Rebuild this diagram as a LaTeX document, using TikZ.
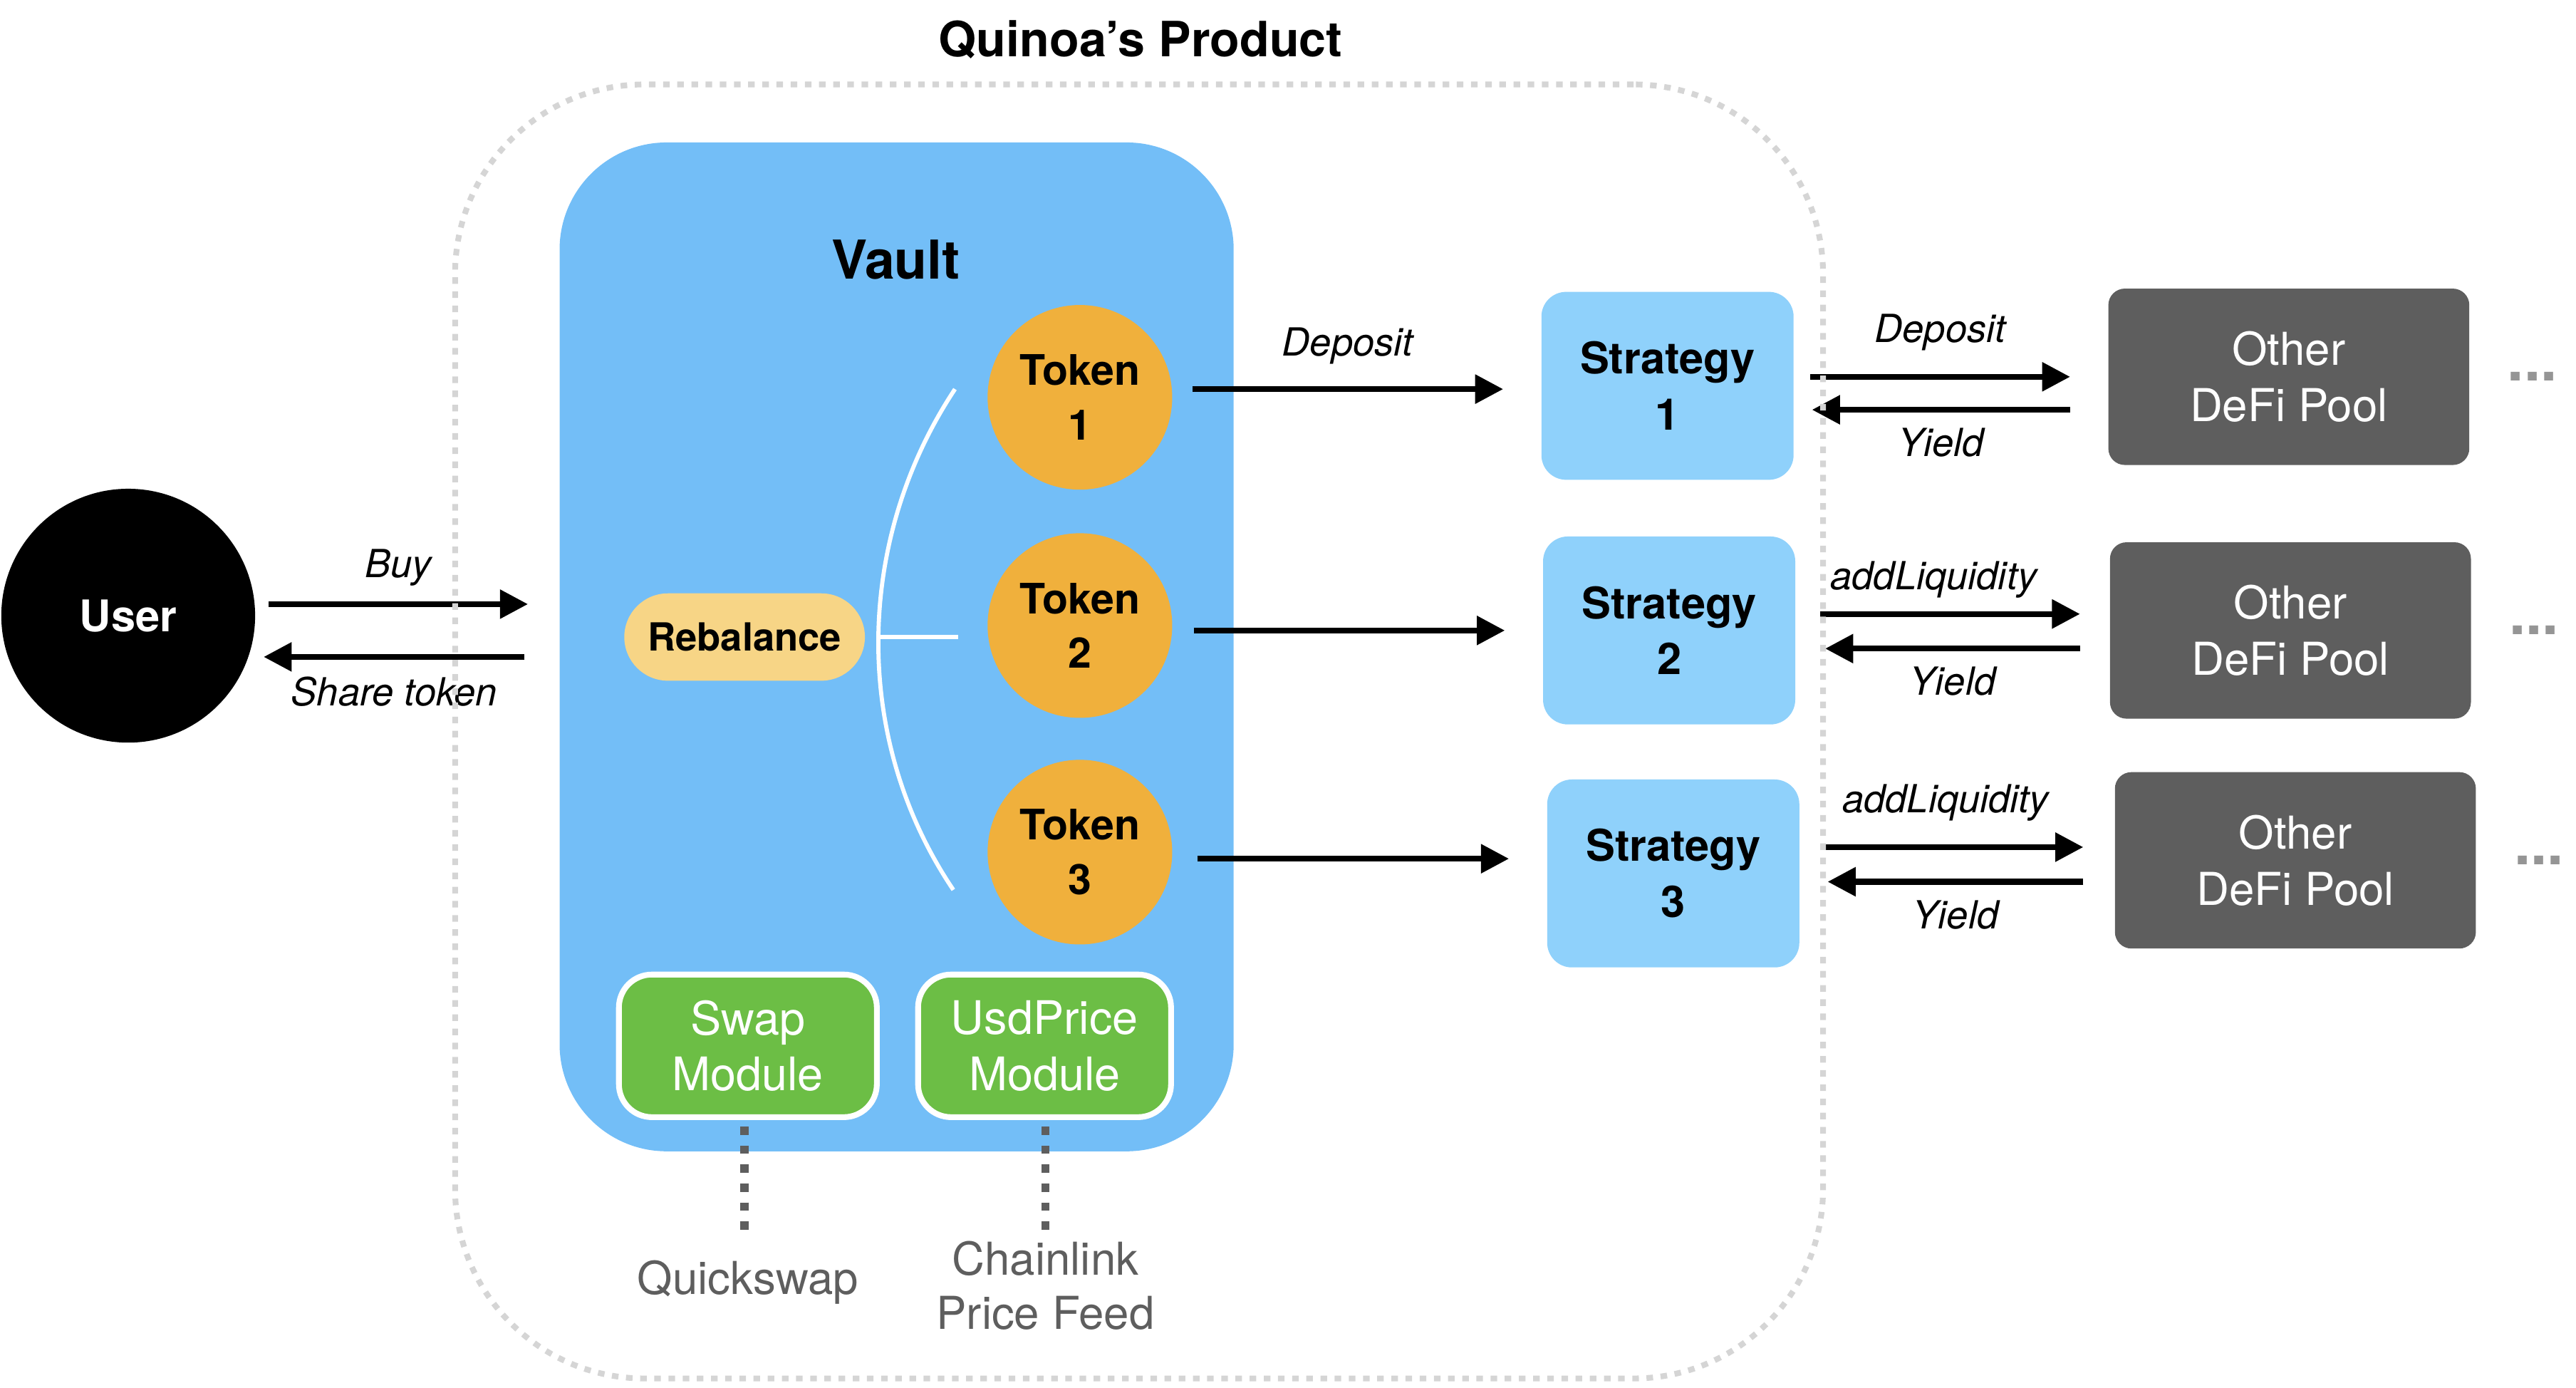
\documentclass[tikz,border=0pt]{standalone}
\usepackage{fontspec}
\setmainfont{TeX Gyre Heros}
\usetikzlibrary{positioning,arrows.meta}
\tikzset{>={Triangle[length=17pt,width=17pt]}}
\definecolor{vaultblue}{HTML}{73BEF7}
\definecolor{stratblue}{HTML}{8FD1FB}
\definecolor{tokenorange}{HTML}{F0B03C}
\definecolor{rebyellow}{HTML}{F7D586}
\definecolor{modgreen}{HTML}{6CBE45}
\definecolor{poolgray}{HTML}{5E5E5E}
\definecolor{dotgray}{HTML}{959595}
\definecolor{boxgray}{HTML}{D5D5D5}
\newcommand*{\fsz}[2]{\fontsize{#1}{#2}\selectfont}

\begin{document}
\begin{tikzpicture}[x=0.9973pt,y=-0.996pt,
  flow/.style={->,line width=3.5pt},
  lbl/.style={font=\itshape\fsz{23.5}{28}},
  token/.style={circle,fill=tokenorange,minimum size=112pt,inner sep=0pt,align=center,font=\bfseries\fsz{25.5}{33}},
  strategy/.style={rectangle,rounded corners=15pt,fill=stratblue,minimum width=153pt,minimum height=114pt,align=center,font=\bfseries\fsz{26.5}{34}},
  pool/.style={rectangle,rounded corners=10pt,fill=poolgray,text=white,minimum width=219pt,minimum height=107pt,align=center,font=\fsz{27.5}{34}},
  module/.style={rectangle,rounded corners=20pt,fill=modgreen,draw=white,line width=3.5pt,text=white,minimum height=86.5pt,align=center,font=\fsz{28}{34}},
  modline/.style={draw=poolgray,line width=5pt,dash pattern=on 5pt off 6.5pt},
  dots/.style={text=dotgray,font=\bfseries\fsz{36}{36},inner sep=0pt},
  ext/.style={text=poolgray,align=center,font=\fsz{27.5}{33}}]
\useasboundingbox (0,0) rectangle (1567.23,845.38);
% Title
\node[font=\bfseries\fsz{29.5}{34}] (title) at (694,24) {Quinoa’s Product};
% Draw user and vault
\node[circle,fill=black,text=white,minimum size=154pt,inner sep=0pt,font=\bfseries\fsz{26.5}{32}] (user) at (78,375) {User};
\node[rectangle,rounded corners=65pt,fill=vaultblue,minimum width=409pt,minimum height=612pt] (vault) at (545.5,394) {};
\node[font=\bfseries\fsz{32.5}{38}] (vaulttitle) at (545,158) {Vault};
% Buy and share token arrows
\draw[flow] ([xshift=8pt,yshift=7pt]user.east) -- node[lbl,yshift=22pt] {Buy} ([xshift=-19pt,yshift=7pt]user.east -| vault.west);
\draw[flow] ([xshift=-21pt,yshift=-25pt]user.east -| vault.west) -- node[lbl,yshift=-21pt] {Share token} ([xshift=5pt,yshift=-25pt]user.east);
% Tokens and rebalance
\node[token] (t1) at (657,242) {Token\\1};
\node[token] (t2) at (657,381) {Token\\2};
\node[token] (t3) at (657,519) {Token\\3};
\node[rectangle,rounded corners=26.5pt,fill=rebyellow,minimum width=146pt,minimum height=53pt,font=\bfseries\fsz{23.5}{28}] (reb) at (453,388) {Rebalance};
\draw[white,line width=2.5pt] (581,237) .. controls (520,329) and (518,450) .. (580,542);
\draw[white,line width=2.5pt] (534.5,388) coordinate (fork) -- (583,388);
% Strategies and pools
\node[strategy] (s1) at (1014.5,235) {Strategy\\1};
\node[strategy] (s2) at (1015.5,384) {Strategy\\2};
\node[strategy] (s3) at (1018,532) {Strategy\\3};
\node[pool] (p1) at (1392.5,229.5) {Other\\DeFi Pool};
\node[pool] (p2) at (1393.5,384) {Other\\DeFi Pool};
\node[pool] (p3) at (1396.5,524) {Other\\DeFi Pool};
\node[dots] (d1) at ([xshift=38pt]p1.east) {...};
\node[dots] (d2) at ([xshift=38pt]p2.east) {...};
\node[dots] (d3) at ([xshift=38pt]p3.east) {...};
% Token to strategy
\draw[flow] ([xshift=12pt,yshift=-2pt]t1.east |- s1.west) -- node[lbl,yshift=26pt] {Deposit} ([xshift=-23pt,yshift=-2pt]s1.west);
\draw[flow] ([xshift=13pt]t2.east |- s2.west) -- ([xshift=-23pt]s2.west);
\draw[flow] ([xshift=15pt,yshift=-4pt]t3.east) -- ([xshift=-23pt,yshift=-4pt]t3.east -| s3.west);
% Strategy to pool
\draw[flow] ([xshift=10pt]p1.west -| s1.east) -- node[lbl,yshift=27pt] {Deposit} ([xshift=-23pt]p1.west);
\draw[flow] ([xshift=-23pt,yshift=-20pt]p1.west) -- node[lbl,yshift=-20pt] {Yield} ([xshift=11pt,yshift=-20pt]p1.west -| s1.east);
\draw[flow] ([xshift=15pt,yshift=10pt]p2.west -| s2.east) -- node[lbl,xshift=-10pt,yshift=21pt] {addLiquidity} ([xshift=-18pt,yshift=10pt]p2.west);
\draw[flow] ([xshift=-18pt,yshift=-11pt]p2.west) -- node[lbl,yshift=-20pt] {Yield} ([xshift=18pt,yshift=-11pt]p2.west -| s2.east);
\draw[flow] ([xshift=15pt,yshift=8pt]p3.west -| s3.east) -- node[lbl,xshift=-5pt,yshift=27pt] {addLiquidity} ([xshift=-19pt,yshift=8pt]p3.west);
\draw[flow] ([xshift=-19pt,yshift=-13pt]p3.west) -- node[lbl,yshift=-20pt] {Yield} ([xshift=17pt,yshift=-13pt]p3.west -| s3.east);
% Modules and outside feeds
\node[module,minimum width=156.5pt] (swap) at (455,637) {Swap\\Module};
\node[module,minimum width=153.5pt] (usd) at (635.5,637) {UsdPrice\\Module};
\coordinate (qsend) at (453,752);
\coordinate (clend) at (636,752);
\draw[modline] ([yshift=-4pt]swap.south -| qsend) -- (qsend);
\draw[modline] ([yshift=-4pt]usd.south -| clend) -- (clend);
\node[ext] (qs) at (455,781) {Quickswap};
\node[ext] (cl) at (636,783) {Chainlink\\Price Feed};
% Product boundary
\node[draw=boxgray,line width=3.5pt,dash pattern=on 4pt off 4.6pt,rounded corners=115pt,minimum width=830pt,minimum height=785pt] (product) at (693,445.5) {};
\end{tikzpicture}
\end{document}
